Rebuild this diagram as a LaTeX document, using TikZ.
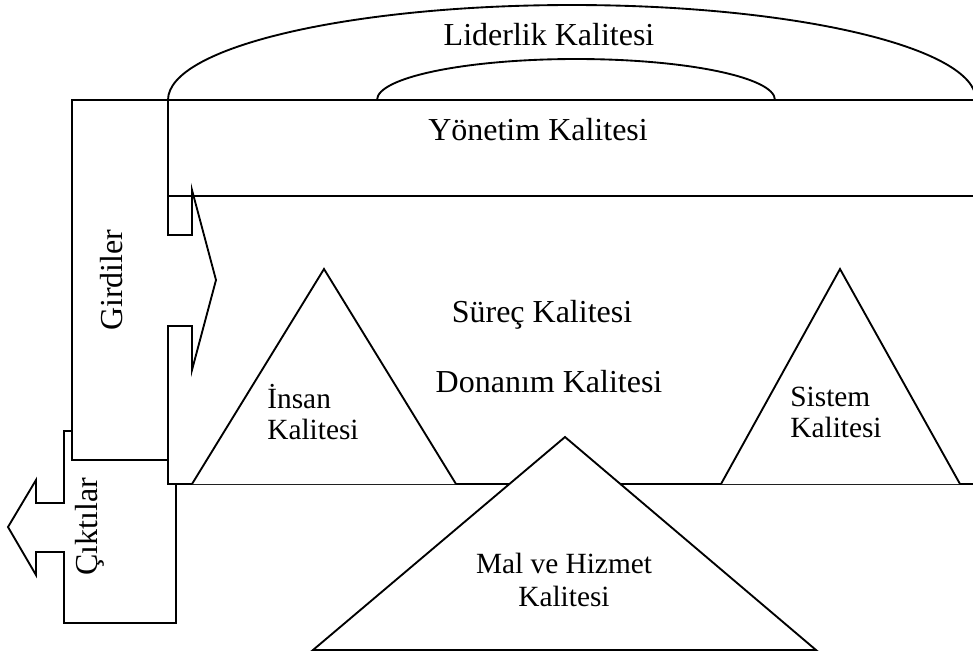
\documentclass[tikz,border=0pt]{standalone}
\usepackage{fontspec}
\setmainfont{Liberation Serif}
\usetikzlibrary{positioning}

\begin{document}
\begin{tikzpicture}[
    x=0.375pt,
    y=-0.375pt,
    every node/.style={font=\fontsize{12}{14}\selectfont},
    cizgi/.style={
        draw=black,
        line width=0.7pt,
        line join=miter
    },
    blok/.style={
        cizgi,
        fill=white
    },
    ucgenyazi/.style={
        align=left,
        font=\fontsize{11}{11.6}\selectfont
    }
]

\useasboundingbox (0,0) rectangle (973,652);

% ============================================================
% ÇIKTILAR
% ============================================================

\draw[blok]
(64,431) -- (176,431) -- (176,623) -- (64,623) -- (64,552)
-- (36,552) -- (36,575) -- (8,527) -- (36,480) -- (36,503)
-- (64,503) -- cycle;

% ============================================================
% SÜREÇ VE YÖNETİM
% ============================================================

\draw[blok] (168,196) rectangle (995,484);

\draw[blok] (168,100) rectangle (995,196);

% ============================================================
% GİRDİLER
% ============================================================

\draw[blok]
(72,100) -- (168,100) -- (168,235) -- (192,235) -- (192,190)
-- (216,280) -- (192,370) -- (192,326) -- (168,326) -- (168,460)
-- (72,460) -- cycle;

% ============================================================
% ÜÇGENLER
% ============================================================

\draw[blok] (192,484) -- (324,269) -- (456,484);

\draw[blok] (721,484) -- (840,269) -- (960,484);

\draw[blok] (313,650) -- (565,437) -- (816,650) -- cycle;

% ============================================================
% LİDERLİK
% ============================================================

\draw[cizgi] (168,100) arc[start angle=180, end angle=360,
    x radius=404, y radius=95];

\draw[cizgi] (377,100) arc[start angle=180, end angle=360,
    x radius=199, y radius=41];

% ============================================================
% YAZILAR
% ============================================================

\node (lider) at (549,35) {Liderlik Kalitesi};

\node (yonetim) at (538,130) {Yönetim Kalitesi};

\node (surec) at (542,315) {Süreç Kalitesi};

\node (donanim) at (549,382) {Donanım Kalitesi};

\node[ucgenyazi] (insan) at (313,412) {İnsan\\Kalitesi};

\node[ucgenyazi] (sistem) at (836,412) {Sistem\\Kalitesi};

\node[
    ucgenyazi,
    align=center,
    font=\fontsize{11}{12.6}\selectfont
] (mal) at (564,580) {Mal ve Hizmet\\Kalitesi};

\node[rotate=90] (girdi) at (112,280) {Girdiler};

\node[rotate=90] (cikti) at (90,527) {Çıktılar};

\end{tikzpicture}
\end{document}
